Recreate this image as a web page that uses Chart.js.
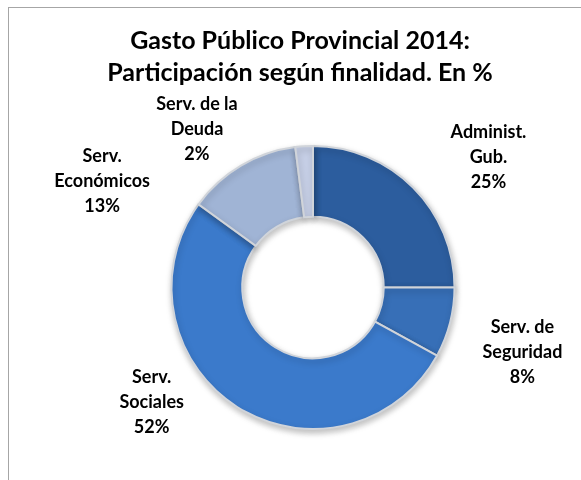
<!DOCTYPE html>
<html>
<head>
<meta charset="utf-8">
<script src="https://cdn.jsdelivr.net/npm/chart.js@4.4.1/dist/chart.umd.min.js"></script>
<style>
  html, body { margin: 0; padding: 0; width: 581px; height: 480px; overflow: hidden; background: #fff; }
  #frame { position: absolute; left: 8px; top: 7px; width: 590px; height: 500px; border: 1px solid #a6a6a6; }
  #wrap { position: absolute; left: 0; top: 0; width: 581px; height: 480px; }
</style>
</head>
<body>
<div id="frame"></div>
<div id="wrap"><canvas id="c" width="581" height="480"></canvas></div>
<script>
const titleLines = ["Gasto Público Provincial 2014:", "Participación según finalidad. En %"];
const categories = [["Administ.", "Gub."], ["Serv. de", "Seguridad"], ["Serv.", "Sociales"], ["Serv.", "Económicos"], ["Serv. de la", "Deuda"]];
const shares = [25, 8, 52, 13, 2];
const sliceColors = ["#2c5d9e", "#376fb7", "#3b7acb", "#a0b4d5", "#c6cfe6"];

// label anchor offsets, in units of the outer radius, from the doughnut centre
const labelOffsets = [[1.24, -0.92], [1.48, 0.46], [-1.14, 0.81], [-1.49, -0.75], [-0.82, -1.12]];

const titlePlugin = {
  id: 'frameTitle',
  afterDraw(chart) {
    const ctx = chart.ctx;
    ctx.save();
    ctx.font = 'bold 25px Lato, "Open Sans", sans-serif';
    ctx.fillStyle = '#000';
    ctx.textAlign = 'center';
    ctx.textBaseline = 'middle';
    titleLines.forEach((t, k) => ctx.fillText(t, 300, 41 + k * 32));
    ctx.restore();
  }
};

const labelPlugin = {
  id: 'sliceLabels',
  afterDatasetsDraw(chart) {
    const ctx = chart.ctx;
    const meta = chart.getDatasetMeta(0);
    ctx.save();
    ctx.font = 'bold 18px Lato, "Open Sans", sans-serif';
    ctx.fillStyle = '#000';
    ctx.textAlign = 'center';
    ctx.textBaseline = 'middle';
    meta.data.forEach((arc, i) => {
      const r = arc.outerRadius;
      const cx = arc.x + labelOffsets[i][0] * r;
      const cy = arc.y + labelOffsets[i][1] * r;
      const lines = categories[i].concat([shares[i] + '%']);
      const lh = 25;
      const y0 = cy - (lines.length - 1) * lh / 2;
      lines.forEach((t, k) => ctx.fillText(t, cx, y0 + k * lh));
    });
    ctx.restore();
  }
};

const shadowPlugin = {
  id: 'shadow',
  beforeDatasetsDraw(chart) {
    const ctx = chart.ctx;
    ctx.save();
    ctx.shadowColor = 'rgba(0,0,0,0.25)';
    ctx.shadowBlur = 6;
    ctx.shadowOffsetX = 1;
    ctx.shadowOffsetY = 3;
  },
  afterDatasetsDraw(chart) {
    chart.ctx.restore();
  }
};

new Chart(document.getElementById('c'), {
  type: 'doughnut',
  data: {
    labels: categories.map(c => c.join(' ')),
    datasets: [{
      data: shares,
      backgroundColor: sliceColors,
      borderColor: '#d0d4da',
      borderWidth: 2,
      borderJoinStyle: 'miter'
    }]
  },
  options: {
    responsive: false,
    animation: false,
    cutout: '50%',
    layout: { padding: { top: 145, bottom: 50, left: 100, right: 55 } },
    plugins: {
      legend: { display: false },
      tooltip: { enabled: false },
      title: { display: false }
    }
  },
  plugins: [shadowPlugin, labelPlugin, titlePlugin]
});
</script>
</body>
</html>
